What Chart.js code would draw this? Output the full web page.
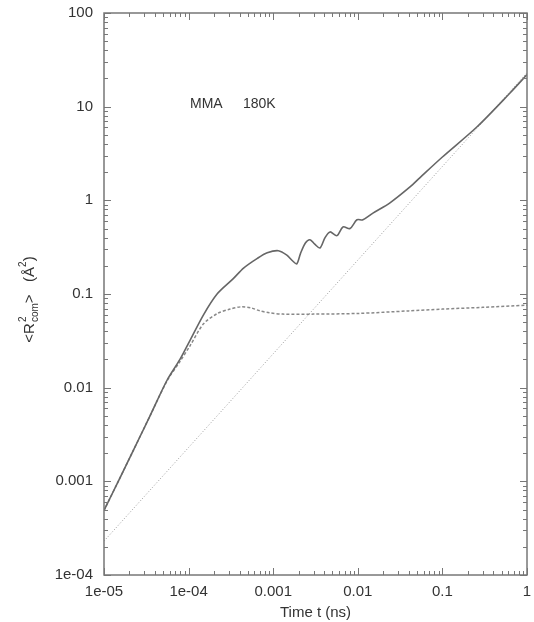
<!DOCTYPE html>
<html>
<head>
<meta charset="utf-8">
<script src="https://cdn.jsdelivr.net/npm/chart.js@4/dist/chart.umd.min.js"></script>
<style>
    html, body { margin: 0; padding: 0; background: #fff; }
    canvas { display: block; }
</style>
</head>
<body>
<canvas id="msdChart" width="534" height="622"></canvas>
<script>
// Данные (log-log)
const timeSolid = [1e-5, 1.46e-5, 2.2e-5, 3.5e-5, 5.56e-5, 7.9e-5, 1.04e-4, 1.5e-4, 2.17e-4, 3.35e-4, 4.5e-4, 6.5e-4, 8.5e-4, 1.15e-3, 1.45e-3, 1.7e-3, 1.9e-3, 2.1e-3, 2.4e-3, 2.72e-3, 3.1e-3, 3.57e-3, 4.1e-3, 4.69e-3, 5.67e-3, 6.68e-3, 8.09e-3, 9.78e-3, 1.15e-2, 1.51e-2, 2.4e-2, 4.14e-2, 5.44e-2, 0.1, 0.257, 0.63, 1];
const msdSolid  = [4.9e-4, 9.8e-4, 2.1e-3, 5.0e-3, 0.012, 0.020, 0.032, 0.060, 0.10, 0.145, 0.19, 0.24, 0.275, 0.29, 0.26, 0.225, 0.21, 0.27, 0.35, 0.38, 0.34, 0.31, 0.40, 0.46, 0.42, 0.52, 0.50, 0.62, 0.62, 0.73, 0.94, 1.39, 1.75, 2.9, 6.1, 14, 22];

const timeDashed = [1e-5, 1.46e-5, 2.2e-5, 3.5e-5, 5.56e-5, 7.9e-5, 1.04e-4, 1.5e-4, 2.2e-4, 3.1e-4, 4.2e-4, 5.5e-4, 7e-4, 9e-4, 1.3e-3, 3e-3, 0.01, 0.04, 0.1, 0.3, 1];
const msdDashed  = [4.9e-4, 9.8e-4, 2.1e-3, 5.0e-3, 0.0118, 0.019, 0.028, 0.048, 0.062, 0.069, 0.073, 0.071, 0.066, 0.063, 0.061, 0.061, 0.062, 0.066, 0.069, 0.072, 0.076];

const timeLine = [1e-5, 1e-4, 1e-3, 1e-2, 1e-1, 1];
const msdLine  = [2.3e-4, 2.3e-3, 0.023, 0.23, 2.3, 23];

const xTickValues = [1e-5, 1e-4, 1e-3, 1e-2, 1e-1, 1];
const xTickLabels = ['1e-05', '1e-04', '0.001', '0.01', '0.1', '1'];
const yTickValues = [1e-4, 1e-3, 1e-2, 1e-1, 1, 10, 100];
const yTickLabels = ['1e-04', '0.001', '0.01', '0.1', '1', '10', '100'];

const FONT = '"Liberation Sans", Arial, sans-serif';
const textColor = '#333';
const frameColor = '#777';

const toPoints = (xs, ys) => xs.map((x, i) => ({ x: x, y: ys[i] }));

// рамка, засечки внутрь, подписи
const framePlugin = {
    id: 'frame',
    afterDatasetsDraw(chart) {
        const { ctx, chartArea: a, scales } = chart;
        ctx.save();
        ctx.strokeStyle = frameColor;
        ctx.lineWidth = 1;
        ctx.beginPath();
        xTickValues.forEach(d => {
            for (let m = 1; m <= 9; m++) {
                const v = d * m;
                if (v > 1.0001) break;
                const px = Math.round(scales.x.getPixelForValue(v)) + 0.5;
                const len = m === 1 ? 7 : 4;
                ctx.moveTo(px, a.bottom); ctx.lineTo(px, a.bottom - len);
                ctx.moveTo(px, a.top); ctx.lineTo(px, a.top + len);
            }
        });
        yTickValues.forEach(d => {
            for (let m = 1; m <= 9; m++) {
                const v = d * m;
                if (v > 100.001) break;
                const py = Math.round(scales.y.getPixelForValue(v)) + 0.5;
                const len = m === 1 ? 7 : 4;
                ctx.moveTo(a.left, py); ctx.lineTo(a.left + len, py);
                ctx.moveTo(a.right, py); ctx.lineTo(a.right - len, py);
            }
        });
        ctx.stroke();

        ctx.lineWidth = 1.5;
        ctx.strokeRect(a.left, a.top, a.right - a.left, a.bottom - a.top);

        // надпись в поле графика
        ctx.fillStyle = textColor;
        ctx.font = '14px ' + FONT;
        ctx.textBaseline = 'middle';
        ctx.fillText('MMA', 190, 104);
        ctx.fillText('180K', 243, 104);

        // подпись оси Y с индексами
        ctx.translate(30, 300);
        ctx.rotate(-Math.PI / 2);
        const big = '15px ' + FONT, small = '10px ' + FONT;
        const w = (t, f) => { ctx.font = f; return ctx.measureText(t).width; };
        const wR = w('<R', big), wSub = Math.max(w('2', small), w('com', small));
        const wMid = w('>   (Å', big), wSup = w('2', small), wEnd = w(')', big);
        let x = -(wR + wSub + wMid + wSup + wEnd) / 2;
        ctx.textAlign = 'left';
        ctx.font = big; ctx.fillText('<R', x, 0); x += wR + 1;
        // верхний и нижний индекс стоят друг над другом
        ctx.font = small; ctx.fillText('2', x, -7); ctx.fillText('com', x, 5); x += wSub;
        ctx.font = big; ctx.fillText('>   (Å', x, 0); x += wMid;
        ctx.font = small; ctx.fillText('2', x, -7); x += wSup;
        ctx.font = big; ctx.fillText(')', x, 0);
        ctx.restore();
    }
};

new Chart(document.getElementById('msdChart'), {
    type: 'line',
    data: {
        datasets: [
            {
                data: toPoints(timeSolid, msdSolid),
                borderColor: '#666',
                borderWidth: 1.6,
                pointRadius: 0,
                tension: 0.3
            },
            {
                data: toPoints(timeDashed, msdDashed),
                borderColor: '#888',
                borderWidth: 1.5,
                borderDash: [3, 2],
                pointRadius: 0,
                tension: 0.3
            },
            {
                data: toPoints(timeLine, msdLine),
                borderColor: '#999',
                borderWidth: 1,
                borderDash: [1, 2],
                pointRadius: 0,
                tension: 0
            }
        ]
    },
    options: {
        responsive: false,
        animation: false,
        layout: { padding: { top: 13, right: 7, left: 0, bottom: 0 } },
        plugins: {
            legend: { display: false },
            tooltip: { enabled: false }
        },
        scales: {
            x: {
                type: 'logarithmic',
                min: 1e-5,
                max: 1,
                grid: { display: false, drawTicks: false },
                border: { display: false },
                afterBuildTicks: s => { s.ticks = xTickValues.map(v => ({ value: v })); },
                afterFit: s => { s.height = 47; s.paddingRight = 0; },
                ticks: {
                    autoSkip: false,
                    maxRotation: 0,
                    padding: 8,
                    color: textColor,
                    font: { family: FONT, size: 15 },
                    callback: (v, i) => xTickLabels[i]
                },
                title: {
                    display: true,
                    text: 'Time t (ns)',
                    color: textColor,
                    font: { family: FONT, size: 15 },
                    padding: { top: 0, bottom: 0 }
                }
            },
            y: {
                type: 'logarithmic',
                min: 1e-4,
                max: 100,
                grid: { display: false, drawTicks: false },
                border: { display: false },
                afterBuildTicks: s => { s.ticks = yTickValues.map(v => ({ value: v })); },
                // подписи не должны сдвигать область графика
                afterFit: s => { s.width = 104; s.paddingTop = 0; s.paddingBottom = 0; },
                ticks: {
                    autoSkip: false,
                    padding: 11,
                    color: textColor,
                    font: { family: FONT, size: 15 },
                    callback: (v, i) => yTickLabels[i]
                }
            }
        }
    },
    plugins: [framePlugin]
});
</script>
</body>
</html>
